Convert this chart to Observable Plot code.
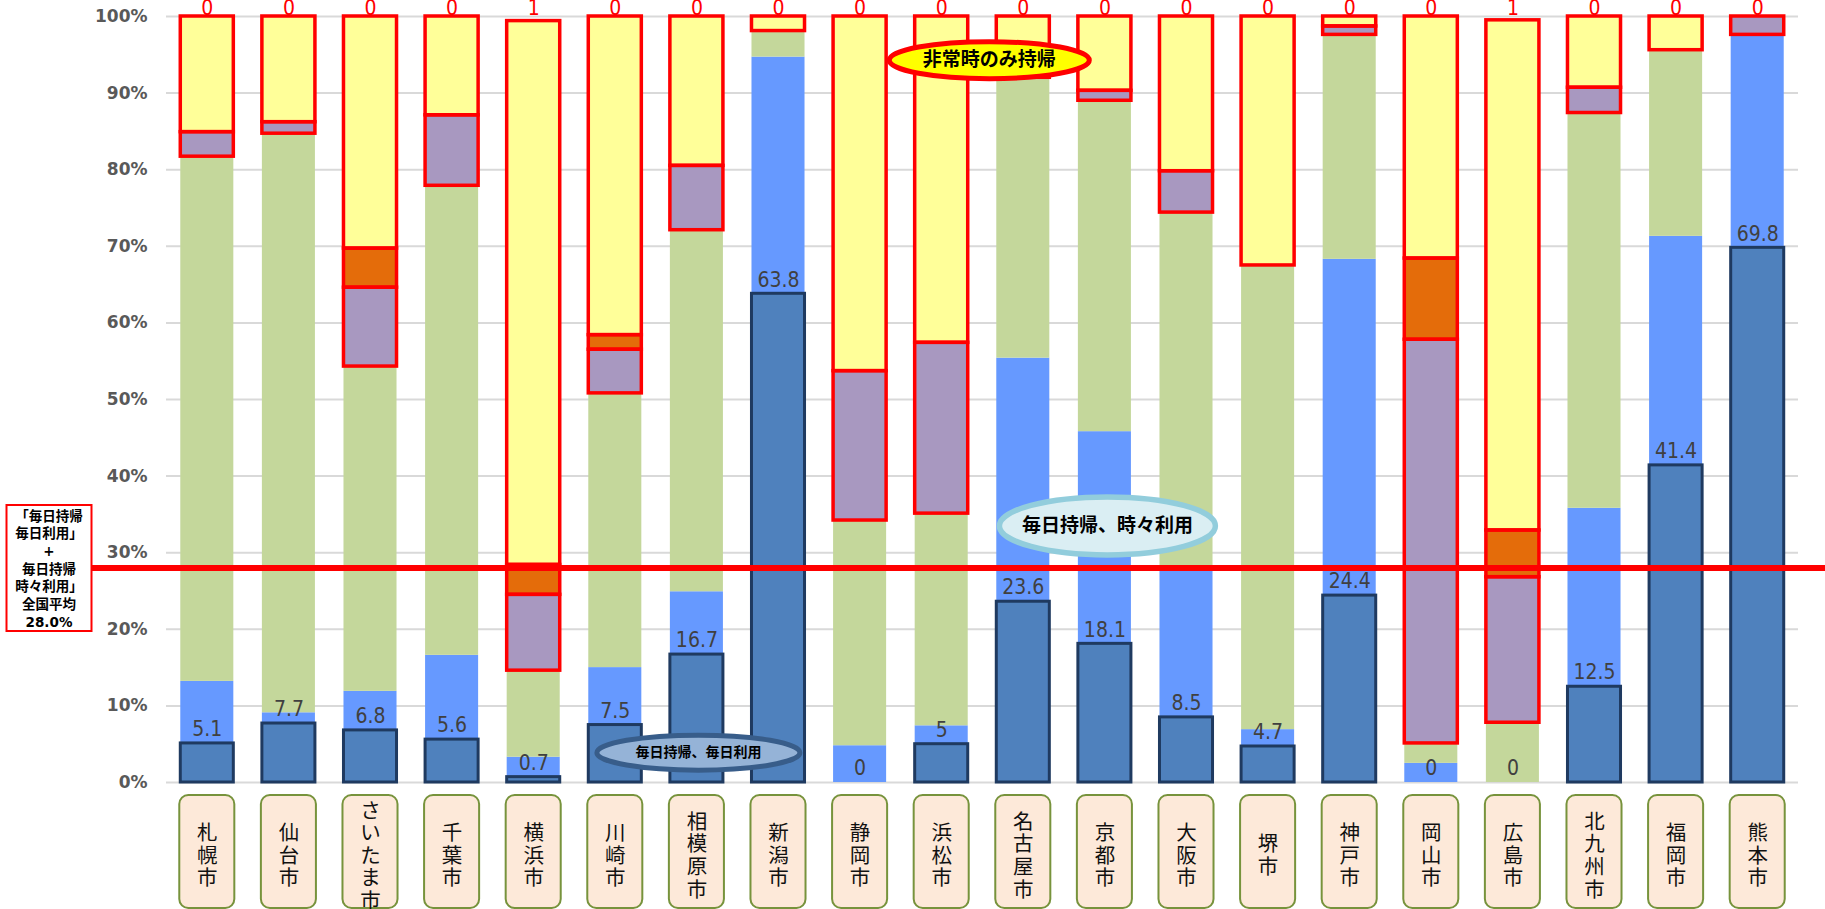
<!DOCTYPE html>
<html lang="ja">
<head>
<meta charset="utf-8">
<script src="https://cdn.jsdelivr.net/npm/d3@7"></script>
<script src="https://cdn.jsdelivr.net/npm/@observablehq/plot@0.6"></script>
<style>
  html, body { margin: 0; padding: 0; background: #fff; }
  #chart svg { display: block; overflow: visible; }
</style>
</head>
<body>
<div id="chart"></div>
<script>
// 政令指定都市別：持ち帰り・利用状況の構成比（%）
const cities = ["札幌市","仙台市","さいたま市","千葉市","横浜市","川崎市","相模原市","新潟市","静岡市","浜松市",
                "名古屋市","京都市","大阪市","堺市","神戸市","岡山市","広島市","北九州市","福岡市","熊本市"];

const seriesNames = ["毎日持帰、毎日利用","毎日持帰、時々利用","毎日持帰、ほぼ利用せず","時々持帰","その他持帰","非常時のみ持帰"];

const dailyUse      = [5.1, 7.7, 6.8, 5.6, 0.7, 7.5, 16.7, 63.8, 0, 5, 23.6, 18.1, 8.5, 4.7, 24.4, 0, 0, 12.5, 41.4, 69.8];
const sometimesUse  = [8.1, 1.4, 5.1, 11.0, 2.6, 7.5, 8.2, 30.9, 4.8, 2.4, 31.8, 27.7, 19.2, 2.2, 43.9, 2.5, 0, 23.3, 29.9, 27.8];
const rarelyUse     = [68.5, 75.6, 42.4, 61.3, 11.3, 35.8, 47.2, 3.4, 29.4, 27.7, 36.6, 43.2, 46.7, 60.6, 29.3, 2.6, 7.8, 51.6, 24.3, 0];
const occasional    = [3.2, 1.5, 10.3, 9.2, 9.9, 5.7, 8.4, 0, 19.5, 22.3, 0, 1.3, 5.4, 0, 1.1, 52.7, 19.0, 3.3, 0, 2.4];
const otherCarry    = [0, 0, 5.1, 0, 3.9, 1.9, 0, 0, 0, 0, 0, 0, 0, 0, 0, 10.6, 6.1, 0, 0, 0];
const emergencyOnly = [15.1, 13.8, 30.3, 12.9, 71.0, 41.6, 19.5, 1.9, 46.3, 42.6, 8.0, 9.7, 20.2, 32.5, 1.3, 31.6, 66.6, 9.3, 4.4, 0];
const noAnswer      = [0, 0, 0, 0, 0.6, 0, 0, 0, 0, 0, 0, 0, 0, 0, 0, 0, 0.5, 0, 0, 0];

const nationalAverage = 28.0;
const yTicks = [0, 10, 20, 30, 40, 50, 60, 70, 80, 90, 100];

// long table for the stacked bars
const seriesValues = [dailyUse, sometimesUse, rarelyUse, occasional, otherCarry, emergencyOnly];
const rows = cities.flatMap((city, i) =>
  seriesValues.map((vals, s) => ({city, series: seriesNames[s], value: vals[i]})));

const fills = ["#4F81BD", "#6699FF", "#C4D79B", "#A898C0", "#E46C0A", "#FFFF99"];
const redOutlined = new Set([seriesNames[3], seriesNames[4], seriesNames[5]]);

const numFont = "Tahoma, 'DejaVu Sans Condensed', 'DejaVu Sans', sans-serif";
const jpFont = "'Noto Sans CJK JP', sans-serif";
const jpBold = "'DejaVu Sans', 'Noto Sans CJK JP', sans-serif";

// ellipse outline used as a dot symbol
function ellipse(rx, ry) {
  const k = 0.5522847498;
  return {
    draw(c) {
      c.moveTo(rx, 0);
      c.bezierCurveTo(rx, ry * k, rx * k, ry, 0, ry);
      c.bezierCurveTo(-rx * k, ry, -rx, ry * k, -rx, 0);
      c.bezierCurveTo(-rx, -ry * k, -rx * k, -ry, 0, -ry);
      c.bezierCurveTo(rx * k, -ry, rx, -ry * k, rx, 0);
      c.closePath();
    }
  };
}
function box(w, h) {
  return {
    draw(c) {
      c.moveTo(-w / 2, -h / 2);
      c.lineTo(w / 2, -h / 2);
      c.lineTo(w / 2, h / 2);
      c.lineTo(-w / 2, h / 2);
      c.closePath();
    }
  };
}

// callouts naming the series
const callouts = [
  {city: "名古屋市", y: 94.3, dx: -34, text: seriesNames[5], rx: 100, ry: 18.5, fill: "#FFFF00", stroke: "#FF0000", sw: 5, size: 19},
  {city: "京都市", y: 33.5, dx: 2.5, text: seriesNames[1], rx: 108, ry: 29, fill: "#DAEEF3", stroke: "#92CDDC", sw: 5.5, size: 19},
  {city: "相模原市", y: 3.9, dx: 1.5, text: seriesNames[0], rx: 101.5, ry: 17.5, fill: "#95B3D7", stroke: "#385D8A", sw: 5, size: 14}
];

const avgLabel = "「毎日持帰\n毎日利用」\n+\n毎日持帰\n時々利用」\n全国平均\n" + d3.format(".1f")(nationalAverage) + "%";

const chart = Plot.plot({
  width: 1825,
  height: 909,
  marginLeft: 166,
  marginRight: 27,
  marginTop: 16,
  marginBottom: 127,
  style: {background: "#fff", fontFamily: numFont, overflow: "visible"},
  x: {domain: cities, paddingInner: 0.35, paddingOuter: 0.175, round: false, axis: null},
  y: {domain: [0, 100], label: null},
  color: {domain: seriesNames, range: fills},
  opacity: {domain: [0, 1], range: [0, 1]},
  marks: [
    Plot.gridY(yTicks, {stroke: "#D9D9D9", strokeOpacity: 1, strokeWidth: 2}),
    Plot.axisY(yTicks, {tickSize: 0, tickPadding: 19, tickFormat: d => d + "%", label: null,
      fontSize: 17, fontWeight: "bold", color: "#595959", fontFamily: "'DejaVu Sans', sans-serif"}),

    // stacked segments
    Plot.barY(rows, {x: "city", y: "value", fill: "series"}),
    // navy border on the daily-use segment
    Plot.barY(rows, {x: "city", y: "value", fill: "none", stroke: "#1F3A60", strokeWidth: 3,
      strokeOpacity: d => d.series === seriesNames[0] && d.value > 0 ? 1 : 0}),
    // red borders on the upper segments
    Plot.barY(rows, {x: "city", y: "value", fill: "none", stroke: "#FF0000", strokeWidth: 3.5,
      strokeOpacity: d => redOutlined.has(d.series) && d.value > 0 ? 1 : 0}),

    // national average line
    Plot.ruleY([nationalAverage], {stroke: "#FF0000", strokeWidth: 6, insetLeft: -75, insetRight: -27}),

    // daily-use values
    Plot.text(cities, {x: d => d, y: (d, i) => dailyUse[i], text: (d, i) => String(dailyUse[i]),
      dy: -14, lineAnchor: "middle", fill: "#404040", fontSize: 21, fontFamily: numFont}),
    // no-answer values above each bar
    Plot.text(cities, {x: d => d, y: () => 100, text: (d, i) => String(Math.round(noAnswer[i])),
      dy: -8, lineAnchor: "middle", fill: "#FF0000", fontSize: 21, fontFamily: numFont}),

    // city name tags
    Plot.barY(cities, {x: d => d, y1: () => 0, y2: () => 0, insetTop: 13, insetBottom: -126,
      insetLeft: -1, insetRight: -1, rx: 9, fill: "#FDE9D9", stroke: "#77933C", strokeWidth: 2}),
    Plot.text(cities, {x: d => d, frameAnchor: "bottom", dy: 73, text: d => Array.from(d).join("\n"),
      lineAnchor: "middle", lineHeight: 1.1, fontSize: 20.5, fill: "#111", fontFamily: jpFont}),

    // series callouts
    ...callouts.flatMap(c => [
      Plot.dot([c], {x: "city", y: "y", dx: c.dx, symbol: ellipse(c.rx, c.ry),
        fill: c.fill, stroke: c.stroke, strokeWidth: c.sw}),
      Plot.text([c], {x: "city", y: "y", dx: c.dx, text: "text", fontSize: c.size,
        fontWeight: "bold", fill: "#000", fontFamily: jpFont})
    ]),

    // national average label box
    Plot.dot([nationalAverage], {y: d => d, frameAnchor: "left", dx: -117.5, symbol: box(85, 126),
      fill: "#fff", stroke: "#FF0000", strokeWidth: 2}),
    Plot.text([nationalAverage], {y: d => d, frameAnchor: "left", dx: -117.5, text: () => avgLabel,
      textAnchor: "middle", lineAnchor: "middle", lineHeight: 1.31, fontSize: 13.5, fontWeight: "bold",
      fill: "#000", fontFamily: jpBold})
  ]
});

document.getElementById("chart").appendChild(chart);
</script>
</body>
</html>
